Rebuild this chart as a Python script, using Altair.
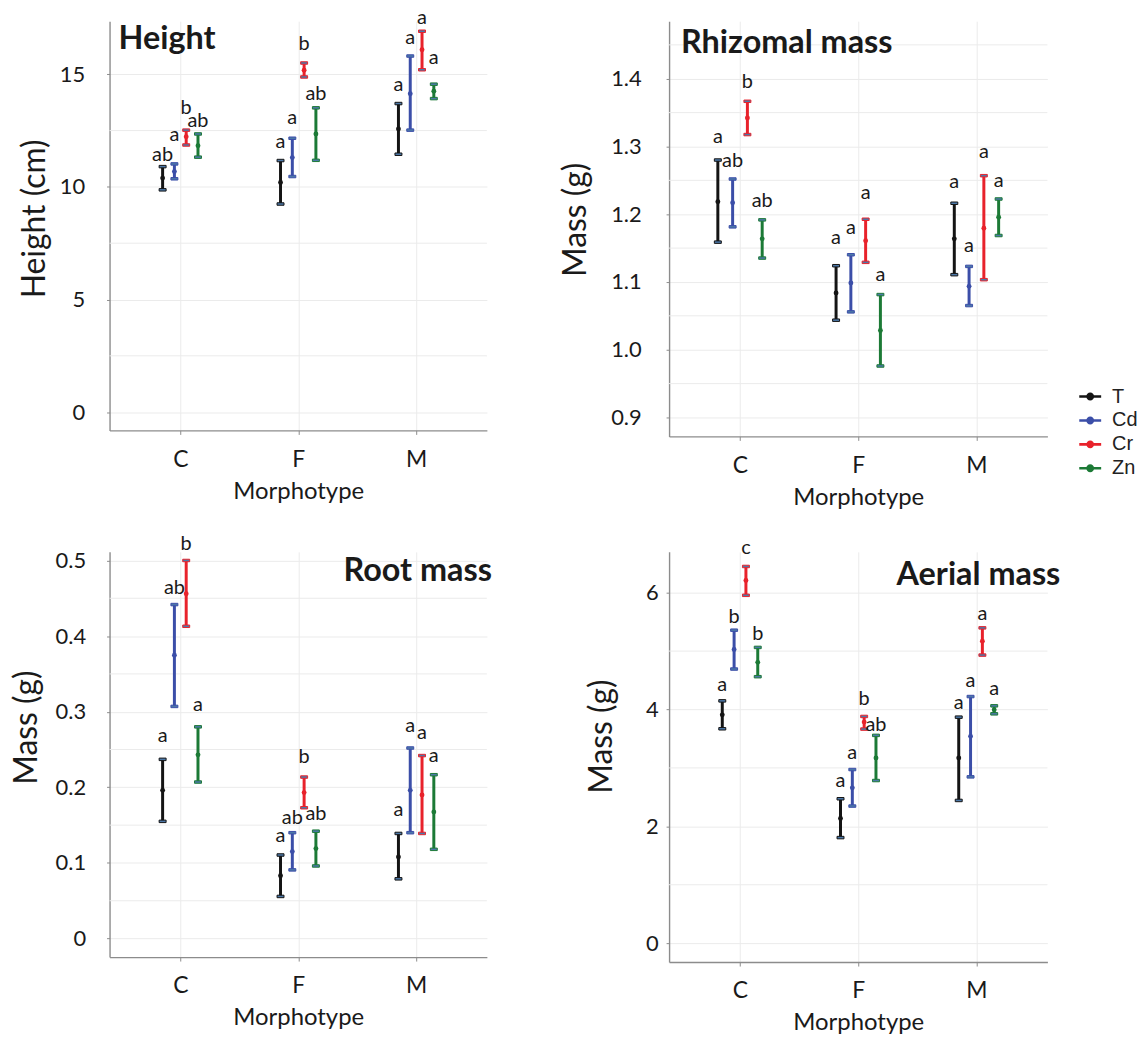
import altair as alt
import pandas as pd

morphotypes = ["C", "F", "M"]
treatments = ["T", "Cd", "Cr", "Zn"]
palette = ["#141414", "#3b4ea8", "#e8222b", "#1c7a36"]

# ---- Height (cm) ----
height_mean = [[10.39, 10.68, 12.23, 11.83], [10.20, 11.30, 15.18, 12.35], [12.57, 14.14, 16.09, 14.25]]
height_low = [[9.87, 10.36, 11.86, 11.32], [9.24, 10.46, 14.88, 11.18], [11.45, 12.52, 15.20, 13.92]]
height_high = [[10.90, 11.02, 12.52, 12.35], [11.17, 12.16, 15.50, 13.51], [13.70, 15.81, 16.91, 14.56]]
height_letters = [["ab", "a", "b", "ab"], ["a", "a", "b", "ab"], ["a", "a", "a", "a"]]
height_label_y = [[11.42, 12.30, 13.51, 12.92], [12.00, 13.04, 16.35, 14.14], [14.51, 16.60, 17.49, 15.72]]
height_ticks = [0, 5, 10, 15]

# ---- Rhizomal mass (g) ----
rhiz_mean = [[1.2186, 1.2170, 1.3420, 1.1637], [1.0838, 1.0985, 1.1608, 1.0284], [1.1637, 1.0936, 1.1794, 1.1956]]
rhiz_low = [[1.1588, 1.1814, 1.3176, 1.1353], [1.0436, 1.0559, 1.1290, 0.9760], [1.1108, 1.0652, 1.1034, 1.1686]]
rhiz_high = [[1.2800, 1.2520, 1.3667, 1.1917], [1.1240, 1.1402, 1.1926, 1.0814], [1.2162, 1.1230, 1.2569, 1.2225]]
rhiz_letters = [["a", "ab", "b", "ab"], ["a", "a", "a", "a"], ["a", "a", "a", "a"]]
rhiz_label_y = [[1.3142, 1.2790, 1.3950, 1.2200], [1.1647, 1.1794, 1.2319, 1.1108], [1.2480, 1.1525, 1.2912, 1.2495]]
rhiz_ticks = [0.9, 1.0, 1.1, 1.2, 1.3, 1.4]

# ---- Root mass (g) ----
root_mean = [[0.196, 0.3746, 0.456, 0.243], [0.083, 0.115, 0.193, 0.119], [0.108, 0.196, 0.190, 0.1675]]
root_low = [[0.155, 0.307, 0.413, 0.207], [0.0557, 0.0908, 0.173, 0.096], [0.079, 0.140, 0.139, 0.118]]
root_high = [[0.237, 0.4417, 0.500, 0.280], [0.1105, 0.140, 0.2136, 0.142], [0.139, 0.252, 0.242, 0.2167]]
root_letters = [["a", "ab", "b", "a"], ["a", "ab", "b", "ab"], ["a", "a", "a", "a"]]
root_label_y = [[0.268, 0.4636, 0.522, 0.309], [0.136, 0.159, 0.240, 0.165], [0.170, 0.281, 0.272, 0.242]]
root_ticks = [0, 0.1, 0.2, 0.3, 0.4, 0.5]

# ---- Aerial mass (g) ----
aer_mean = [[3.909, 5.028, 6.210, 4.807], [2.136, 2.659, 3.784, 3.170], [3.170, 3.540, 5.170, 3.994]]
aer_low = [[3.670, 4.693, 5.955, 4.562], [1.807, 2.347, 3.665, 2.784], [2.443, 2.847, 4.932, 3.926]]
aer_high = [[4.148, 5.358, 6.449, 5.063], [2.472, 2.972, 3.881, 3.557], [3.869, 4.222, 5.398, 4.063]]
aer_letters = [["a", "b", "c", "b"], ["a", "a", "b", "ab"], ["a", "a", "a", "a"]]
aer_label_y = [[4.420, 5.585, 6.760, 5.300], [2.773, 3.256, 4.176, 3.739], [4.108, 4.489, 5.631, 4.347]]
aer_ticks = [0, 2, 4, 6]

FONT = "Lato"
GRID = "#ebebeb"
AXIS = "#8c8c8c"
TXT = "#1a1a1a"

legend_path = ("M-1,-0.12L1,-0.12L1,0.12L-1,0.12Z "
               "M0.36,0A0.36,0.36,0,1,1,-0.36,0A0.36,0.36,0,1,1,0.36,0Z")


def panel(mean, low, high, letters, label_y, ticks, step, ydomain, yfmt, ytitle,
          width, height, title, title_anchor, title_dx, title_dy,
          label_pad, title_pad, title_y, legend=None):
    rows = []
    for i, m in enumerate(morphotypes):
        for j, t in enumerate(treatments):
            rows.append({"morph": m, "treat": t, "pos": i + 1 + (j - 1.5) * step,
                         "mean": mean[i][j], "low": low[i][j], "high": high[i][j],
                         "letter": letters[i][j], "label_y": label_y[i][j]})
    df = pd.DataFrame(rows)

    half = (ticks[1] - ticks[0]) / 2
    minor = [t + half for t in ticks] + [ticks[0] - half]
    minor = [v for v in minor if ydomain[0] <= v <= ydomain[1]]
    minor_df = pd.DataFrame({"v": minor})

    xs = alt.Scale(domain=[0.4, 3.6], nice=False, zero=False)
    ys = alt.Scale(domain=ydomain, nice=False, zero=False)
    xaxis = alt.Axis(values=[1, 2, 3], labelExpr=f"{morphotypes}[datum.value - 1]",
                     title="Morphotype", grid=True, gridColor=GRID, gridWidth=1,
                     domainColor=AXIS, domainWidth=1.4, tickColor=AXIS, tickSize=4,
                     labelFont=FONT, labelFontSize=23, labelColor=TXT, labelPadding=14,
                     titleFont=FONT, titleFontSize=24, titleFontWeight="normal",
                     titleColor=TXT, titlePadding=8)
    yaxis = alt.Axis(values=ticks, format=yfmt, title=ytitle, grid=True, gridColor=GRID,
                     gridWidth=1, domainColor=AXIS, domainWidth=1.4, tickColor=AXIS,
                     tickSize=3, labelFont=FONT, labelFontSize=22, labelColor=TXT,
                     labelPadding=label_pad, titleFont=FONT, titleFontSize=32,
                     titleFontWeight="normal", titleColor=TXT, titlePadding=title_pad,
                     titleY=title_y)
    sc = alt.Scale(domain=treatments, range=palette)
    stroke_enc = alt.Stroke("treat:N", scale=sc, legend=None)
    color_leg = alt.Color("treat:N", scale=sc, legend=legend)

    X = alt.X("pos:Q", scale=xs, axis=xaxis)

    def Y(field):
        return alt.Y(field, scale=ys, axis=yaxis)

    base = alt.Chart(df)
    grid_minor = alt.Chart(minor_df).mark_rule(color=GRID, strokeWidth=1).encode(y=Y("v:Q"))
    bars = base.mark_rule(strokeWidth=3).encode(x=X, y=Y("low:Q"), y2="high:Q", stroke=stroke_enc)
    cap_hi = base.mark_tick(orient="horizontal", size=7, thickness=2.5, opacity=1).encode(
        x=X, y=Y("high:Q"), stroke=stroke_enc)
    cap_lo = base.mark_tick(orient="horizontal", size=7, thickness=2.5, opacity=1).encode(
        x=X, y=Y("low:Q"), stroke=stroke_enc)
    pts = base.mark_point(filled=True, size=24, opacity=1).encode(
        x=X, y=Y("mean:Q"), color=color_leg)
    txt = base.mark_text(font=FONT, fontSize=20, color=TXT, baseline="middle", align="center").encode(
        x=X, y=Y("label_y:Q"), text="letter:N")

    return alt.layer(grid_minor, bars, cap_hi, cap_lo, pts, txt).properties(
        width=width, height=height,
        title=alt.TitleParams(title, anchor=title_anchor, frame="group", orient="top",
                              offset=0, dx=title_dx, dy=title_dy, baseline="middle",
                              font=FONT, fontSize=32.5, fontWeight="bold", color=TXT))


legend = alt.Legend(title=None, orient="none", legendX=412, legendY=366, padding=0,
                    symbolType=legend_path, symbolSize=484, symbolStrokeWidth=0,
                    symbolOpacity=1, rowPadding=3, labelOffset=11,
                    labelFont="Liberation Sans", labelFontSize=20, labelColor="#222222")

p1 = panel(height_mean, height_low, height_high, height_letters, height_label_y, height_ticks,
           0.1, [-0.81, 17.355], "d", "Height (cm)", 379, 411, "Height", "start", 9, 63.4,
           22, 8, 198)
p2 = panel(rhiz_mean, rhiz_low, rhiz_high, rhiz_letters, rhiz_label_y, rhiz_ticks,
           0.125, [0.8721, 1.4849], ".1f", "Mass (g)", 380, 417, "Rhizomal mass", "start", 12, 54.4,
           25, 18, 199, legend=legend)
p3 = panel(root_mean, root_low, root_high, root_letters, root_label_y, root_ticks,
           0.1, [-0.0245, 0.5114], ".1~f", "Mass (g)", 379, 407, "Root mass", "end", 5, 70,
           21, 12, 176)
p4 = panel(aer_mean, aer_low, aer_high, aer_letters, aer_label_y, aer_ticks,
           0.1, [-0.324, 6.699], "d", "Mass (g)", 380, 412, "Aerial mass", "end", 13, 69,
           8, 27, 185)

chart = alt.concat(p1, p2, p3, p4, columns=2, align="each",
                   spacing={"row": 24, "column": 68}).resolve_legend(color="independent").properties(
    padding={"left": 2, "top": -3, "right": 0, "bottom": 0},
    background="white",
).configure_view(stroke=None)

chart.save("out.html", embed_options={"renderer": "svg", "actions": False})
